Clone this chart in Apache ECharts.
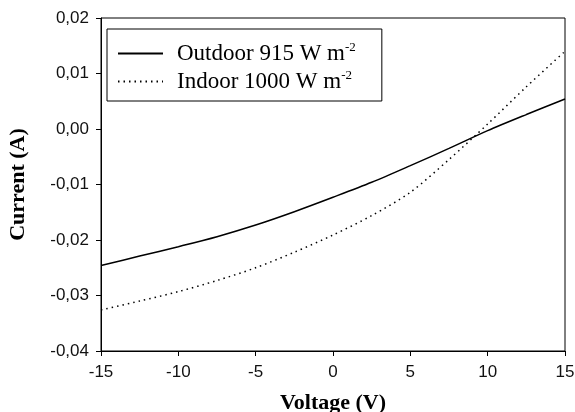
<!DOCTYPE html>
<html>
<head>
<meta charset="utf-8">
<script src="https://cdn.jsdelivr.net/npm/echarts@6/dist/echarts.min.js"></script>
<style>
  html, body { margin: 0; padding: 0; background: #fff; }
  #chart { width: 575px; height: 412px; }
</style>
</head>
<body>
<div id="chart"></div>
<script>
// I-V curves
var voltage = [-15, -12.5, -10, -7.5, -5, -2.5, 0, 2.5, 5, 7.5, 10, 12.5, 15];
var outdoor = [-0.0246, -0.0229, -0.0212, -0.0194, -0.0173, -0.0149, -0.0123, -0.0096, -0.0066, -0.0035, -0.0003, 0.0026, 0.0054];
var indoor  = [-0.0326, -0.0310, -0.0293, -0.0273, -0.0250, -0.0222, -0.0191, -0.0156, -0.0114, -0.0055, 0.0009, 0.0076, 0.0140];
var seriesNames = ['Outdoor 915 W m', 'Indoor 1000 W m'];

function pairs(ys) {
    return voltage.map(function (v, i) { return [v, ys[i]]; });
}

var myChart = echarts.init(document.getElementById('chart'));
var option = {
    animation: false,
    grid: {
        left: 101, right: 10, top: 18, bottom: 61,
        outerBoundsMode: 'none',
        containLabel: false,
        show: true,
        borderColor: '#000',
        borderWidth: 1
    },
    legend: {
        orient: 'vertical',
        left: 107,
        top: 29,
        padding: [12, 26, 8, 10],
        itemWidth: 45,
        itemHeight: 14,
        itemGap: 4,
        borderColor: '#000',
        borderWidth: 1,
        data: seriesNames,
        itemStyle: { color: 'transparent', borderWidth: 0 },
        formatter: function (name) {
            return '{t|' + name + '}{s|-2}';
        },
        textStyle: {
            rich: {
                t: { fontFamily: 'Liberation Serif', fontSize: 23, color: '#000', padding: [0, 0, 0, 9], lineHeight: 25 },
                s: { fontFamily: 'Liberation Serif', fontSize: 13, color: '#000', verticalAlign: 'top', lineHeight: 25, padding: [0, 0, 8, 0] }
            }
        }
    },
    xAxis: {
        type: 'value',
        min: -15, max: 15, interval: 5,
        name: 'Voltage (V)',
        nameLocation: 'middle',
        nameGap: 41,
        nameTextStyle: { fontFamily: 'Liberation Serif', fontWeight: 'bold', fontSize: 22, color: '#000' },
        axisLine: { show: true, onZero: false, lineStyle: { color: '#000', width: 1 } },
        axisTick: { show: true, length: 5, lineStyle: { color: '#000' } },
        axisLabel: { margin: 13, fontFamily: 'Liberation Sans', fontSize: 17, color: '#111' },
        splitLine: { show: false }
    },
    yAxis: {
        type: 'value',
        min: -0.04, max: 0.02, interval: 0.01,
        name: 'Current (A)',
        nameLocation: 'middle',
        nameGap: 72,
        nameTextStyle: { fontFamily: 'Liberation Serif', fontWeight: 'bold', fontSize: 22, color: '#000' },
        axisLine: { show: true, onZero: false, lineStyle: { color: '#000', width: 1 } },
        axisTick: { show: true, length: 5, lineStyle: { color: '#000' } },
        axisLabel: {
            margin: 12, fontFamily: 'Liberation Sans', fontSize: 17, color: '#111',
            formatter: function (v) { return v.toFixed(2).replace('.', ','); }
        },
        splitLine: { show: false }
    },
    series: [
        {
            name: seriesNames[0],
            type: 'line',
            data: pairs(outdoor),
            smooth: 0.3,
            symbol: 'none',
            lineStyle: { color: '#000', width: 1.5, type: 'solid' },
            itemStyle: { color: '#000' }
        },
        {
            name: seriesNames[1],
            type: 'line',
            data: pairs(indoor),
            smooth: 0.3,
            symbol: 'none',
            lineStyle: { color: '#000', width: 1.5, type: [1.5, 4] },
            itemStyle: { color: '#000' }
        }
    ]
};

myChart.setOption(option);
</script>
</body>
</html>
